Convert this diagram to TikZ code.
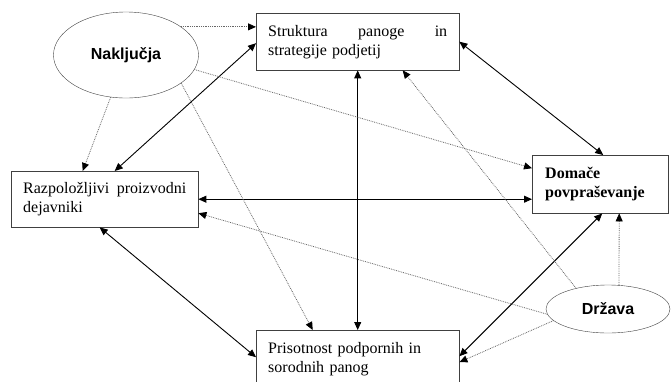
\documentclass[tikz,border=0pt]{standalone}
\usepackage{fontspec}
\setmainfont{Liberation Serif}
\newfontfamily\elipsefont{Liberation Sans}
\usetikzlibrary{arrows.meta,shapes.geometric}

\begin{document}
\begin{tikzpicture}[x=1pt,y=-1pt]
	
	% --- okvir slike ---
	\clip (0,0) rectangle (671,381);
	
	% --- stili ---
	\tikzset{
		okvir/.style  = {draw=black!75, rectangle, anchor=north west, inner xsep=12pt, align=left,
			font=\fontsize{16}{19}\selectfont},
		elipsa/.style = {draw=black!75, ellipse, inner sep=0pt, font=\elipsefont\bfseries\fontsize{16}{19}\selectfont},
		vez/.style    = {{Triangle[length=8pt,width=7pt]}-{Triangle[length=8pt,width=7pt]}, line width=0.9pt},
		vpliv/.style  = {-{Triangle[length=8pt,width=7pt,color=black]}, black!60, densely dotted, line width=0.8pt},
	}
	
	% --- okvirji (diamant) ---
	\node[okvir, minimum height=57pt, text width=179pt] (struktura) at (256,13)
		{Struktura\hfill panoge\hfill in\\ strategije podjetij};
	\node[okvir, minimum height=56pt, text width=163pt] (razp) at (11,171)
		{Razpoložljivi\hfill proizvodni\\ dejavniki};
	\node[okvir, minimum height=58pt, text width=110pt, inner xsep=13pt, font=\fontsize{16}{19}\selectfont\bfseries] (domace) at (532,155)
		{Domače\\ povpraševanje};
	\node[okvir, minimum height=58pt, text width=179pt] (prisot) at (256,330)
		{Prisotnost podpornih in\\ sorodnih panog};
	
	% --- elipsi ---
	\node[elipsa, minimum width=145pt, minimum height=86pt] (naklj) at (126,55) {Naključja};
	\node[elipsa, minimum width=124pt, minimum height=48pt] (drzava) at (608,309) {Država};
	
	% --- polne povezave ---
	\draw[vez] ([yshift=-1.5pt]struktura.west) -- ([xshift=10pt]razp.north);
	\draw[vez] (struktura.east) -- ([xshift=3pt]domace.north);
	\draw[vez] (struktura.south) -- (struktura.south |- prisot.north);
	\draw[vez] (razp.east) -- (razp.east -| domace.west);
	\draw[vez] ([xshift=-5pt]razp.south) -- ([yshift=2pt]prisot.west);
	\draw[vez] ([xshift=2pt]domace.south) -- ([yshift=3pt]prisot.east);
	
	% --- pikčasti vplivi ---
	\draw[vpliv] (naklj.27) -- (naklj.27 -| struktura.west);
	\draw[vpliv] (naklj.250) -- ([xshift=-22pt]razp.north);
	\draw[vpliv] (naklj.348) -- ([yshift=16pt]domace.west);
	\draw[vpliv] (naklj.333) -- ([xshift=-45pt]prisot.north);
	\draw[vpliv] (drzava.147) -- ([xshift=45pt]struktura.south);
	\draw[vpliv] (drzava.185) -- ([yshift=-14pt]razp.east);
	\draw[vpliv] (drzava.192) -- ([yshift=-3pt]prisot.east);
	\draw[vpliv] ([xshift=11pt]drzava.north) -- ([xshift=19pt]domace.south);
	
\end{tikzpicture}
\end{document}
